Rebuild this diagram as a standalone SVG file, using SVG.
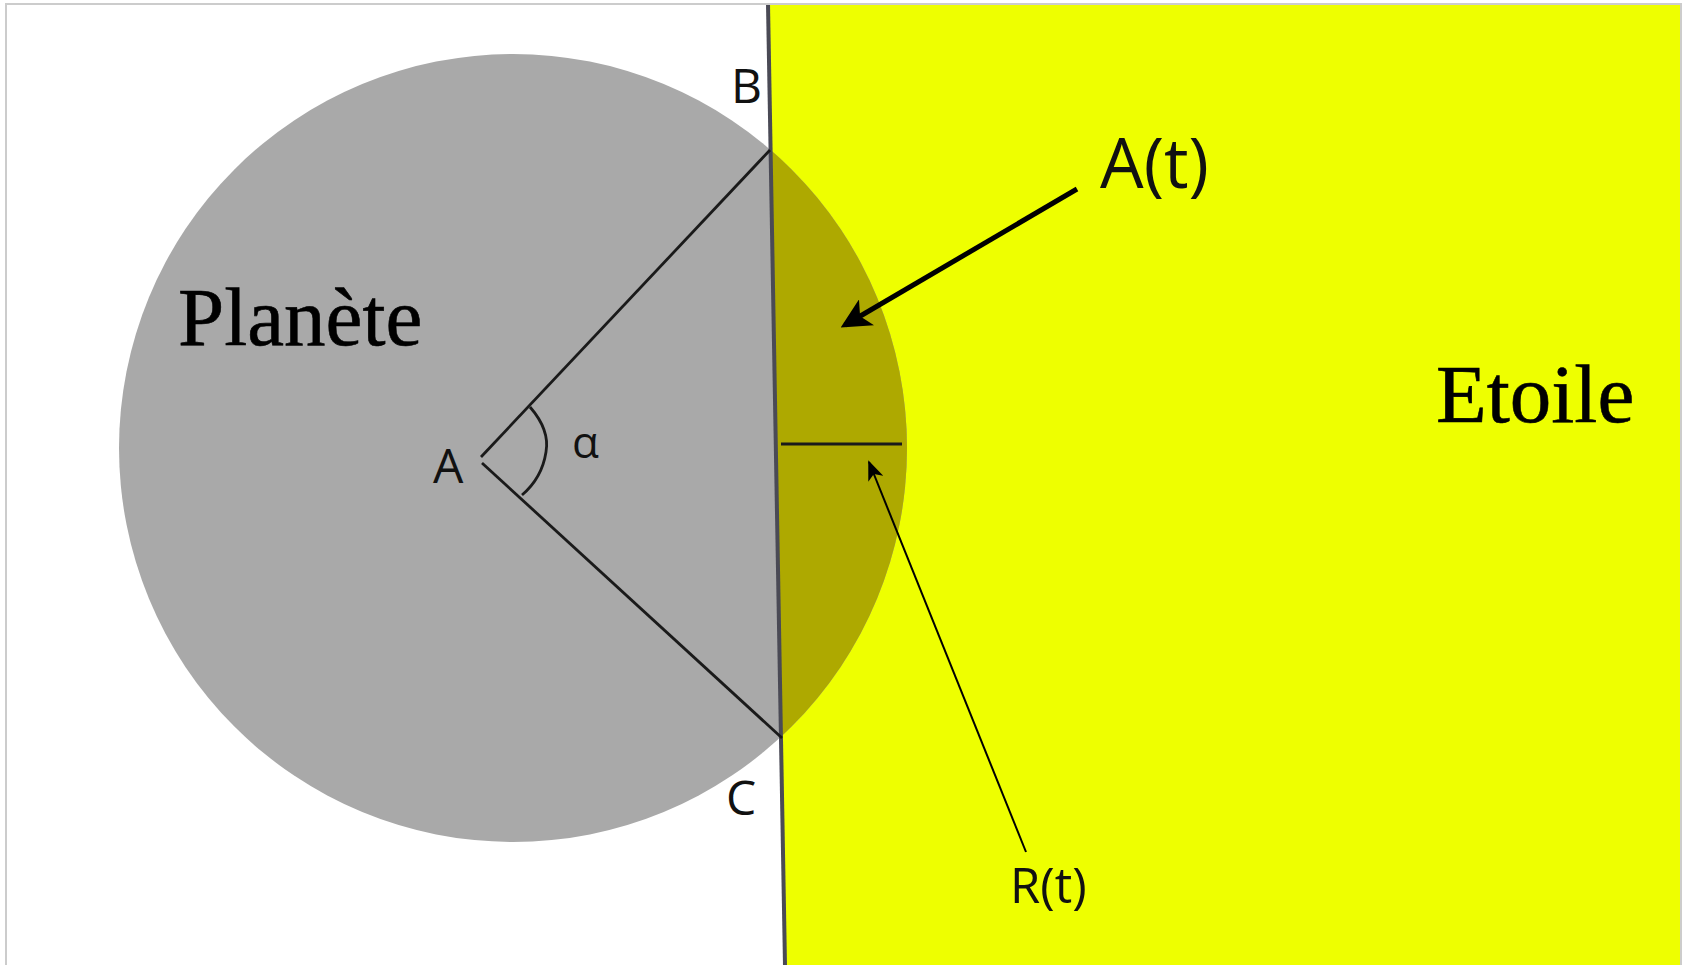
<svg xmlns="http://www.w3.org/2000/svg" width="1688" height="965" viewBox="0 0 1688 965">
<style>
.lbl{font-family:"Open Sans","DejaVu Sans",sans-serif;fill:#111}
.big{font-family:"Liberation Serif","Times New Roman",serif;fill:#000;stroke:#000;stroke-width:0.6}
.ln{stroke:#1a1a1a;fill:none}
</style>
<defs>
<clipPath id="star"><polygon points="769,0 1688,0 1688,965 786,965"/></clipPath>
<marker id="ah1" markerWidth="6" markerHeight="6" refX="5" refY="3" orient="auto" markerUnits="strokeWidth"><path d="M0,0 L6,3 L0,6 L1.5,3 Z" fill="#000"/></marker>
<marker id="ah2" markerWidth="10" markerHeight="8" refX="9" refY="4" orient="auto" markerUnits="strokeWidth"><path d="M0,0 L10,4 L0,8 L2.5,4 Z" fill="#000"/></marker>
</defs>
<rect width="1688" height="965" fill="#fff"/>
<g id="etoile">
<polygon points="769,5 1681,5 1681,965 786,965" fill="#eeff00"/>
<text class="big" x="1436" y="422" font-size="83">Etoile</text>
</g>
<g id="planete">
<circle cx="513" cy="448" r="394" fill="#a9a9a9"/>
<circle cx="513" cy="448" r="394" fill="#aea900" clip-path="url(#star)"/>
<text class="big" x="178" y="345" font-size="83">Planète</text>
</g>
<g id="limb">
<line x1="768" y1="4" x2="785" y2="965" stroke="#4a4a55" stroke-width="4"/>
</g>
<g id="connectors">
<line class="ln" x1="481" y1="457" x2="770" y2="150" stroke-width="2.8"/>
<line class="ln" x1="482" y1="463" x2="782" y2="738" stroke-width="2.8"/>
<path class="ln" d="M530,407 Q550,430 546,452 Q542,478 522,495" stroke-width="2.8"/>
<line class="ln" x1="781" y1="444" x2="902" y2="444" stroke-width="3"/>
<line x1="1077" y1="189" x2="845" y2="325" stroke="#000" stroke-width="5" marker-end="url(#ah1)"/>
<line x1="1026" y1="852" x2="869" y2="462" stroke="#000" stroke-width="2" marker-end="url(#ah2)"/>
</g>
<g id="labels">
<text class="lbl" x="731" y="103" font-size="48">B</text>
<text class="lbl" x="726" y="815" font-size="48">C</text>
<text class="lbl" x="433" y="483" font-size="48">A</text>
<text class="lbl" x="572" y="458" font-size="44">α</text>
<text class="lbl" x="1100" y="188" font-size="69">A(t)</text>
<text class="lbl" x="1010" y="903" font-size="49">R(t)</text>
</g>
<g id="frame" fill="none" stroke="#cccccc" stroke-width="2">
<polyline points="6,965 6,4 1681,4 1681,965"/>
</g>
</svg>
